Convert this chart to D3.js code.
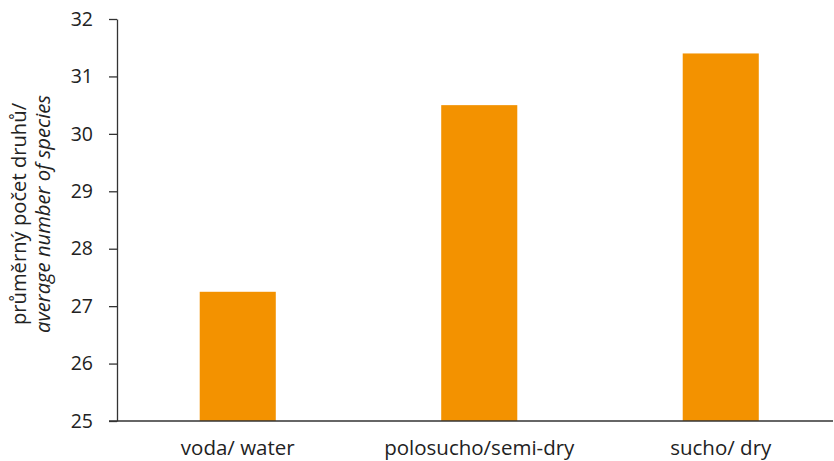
<!DOCTYPE html>
<html>
<head>
<meta charset="utf-8">
<script src="https://cdn.jsdelivr.net/npm/d3@7"></script>
<style>
  html, body { margin: 0; padding: 0; background: #fff; }
  svg text { font-family: "Open Sans", "Noto Sans", sans-serif; fill: #222; }
</style>
</head>
<body>
<svg id="chart" width="834" height="461"></svg>
<script>
// Average number of species by habitat moisture
const categories = ["voda/ water", "polosucho/semi-dry", "sucho/ dry"];
const values = [27.25, 30.5, 31.4];
const yTicks = [25, 26, 27, 28, 29, 30, 31, 32];

const svg = d3.select("#chart");
const plot = { left: 117, right: 841.5, top: 19, bottom: 421 };

const x = d3.scaleBand()
  .domain(categories)
  .range([plot.left, plot.right])
  .paddingInner(0.685)
  .paddingOuter(0.3425);

const y = d3.scaleLinear().domain([25, 32]).range([plot.bottom, plot.top]);

// bars
svg.append("g").selectAll("rect")
  .data(values)
  .join("rect")
  .attr("x", (d, i) => x(categories[i]))
  .attr("width", x.bandwidth())
  .attr("y", d => y(d))
  .attr("height", d => y(25) - y(d))
  .attr("fill", "#f39200");

// y axis
const yAxis = svg.append("g")
  .attr("transform", `translate(${plot.left},0)`)
  .call(d3.axisLeft(y).tickValues(yTicks).tickFormat(d3.format("d"))
    .tickSize(8).tickPadding(16).tickSizeOuter(0));
yAxis.select(".domain").attr("stroke", "#333").attr("stroke-width", 1.3);
yAxis.selectAll(".tick line").attr("stroke", "#333").attr("stroke-width", 1.3);
yAxis.selectAll(".tick text").attr("font-size", 19.5).style("fill", "#222");

// x axis baseline
svg.append("line")
  .attr("x1", plot.left - 8).attr("x2", 833)
  .attr("y1", plot.bottom).attr("y2", plot.bottom)
  .attr("stroke", "#333").attr("stroke-width", 1.3);

const xAxis = svg.append("g")
  .attr("transform", `translate(0,${plot.bottom})`)
  .call(d3.axisBottom(x).tickSize(0).tickPadding(19));
xAxis.select(".domain").remove();
xAxis.selectAll(".tick text").attr("font-size", 20.5).style("fill", "#222");

// y axis title
const title = svg.append("text")
  .attr("transform", "translate(0,214) rotate(-90)")
  .attr("text-anchor", "middle")
  .attr("font-size", 20.2);
title.append("tspan").attr("x", 0).attr("y", 26).text("průměrný počet druhů/");
title.append("tspan").attr("x", 0).attr("y", 50).attr("font-style", "italic").text("average number of species");
</script>
</body>
</html>
